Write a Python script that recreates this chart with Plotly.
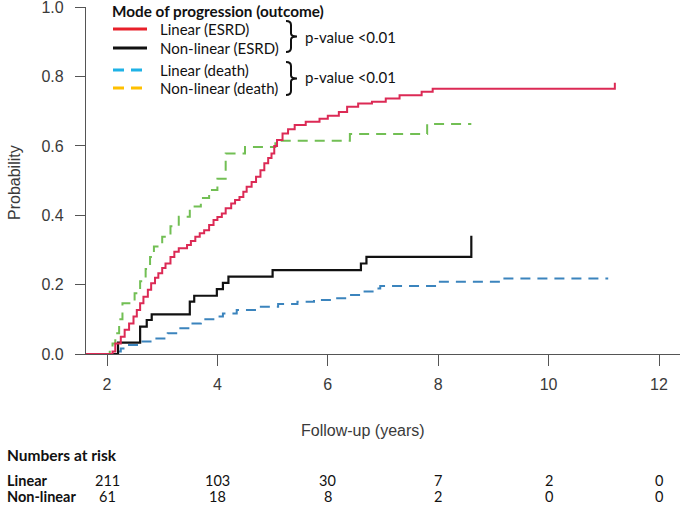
import plotly.graph_objects as go

# ---------------- data ----------------
red_t = [1.62, 2.10, 2.15, 2.25, 2.32, 2.40, 2.48, 2.54, 2.60, 2.66, 2.74, 2.80, 2.87, 2.93, 3.00, 3.06,
         3.15, 3.22, 3.30, 3.45, 3.52, 3.60, 3.68, 3.76, 3.85, 3.93, 4.00, 4.08, 4.15, 4.25, 4.32, 4.40,
         4.47, 4.53, 4.62, 4.70, 4.78, 4.85, 4.92, 4.98, 5.03, 5.08, 5.18, 5.28, 5.40, 5.60, 5.85, 6.00,
         6.20, 6.35, 6.55, 6.80, 7.05, 7.30, 7.70, 7.90, 11.20, 11.20]
red_v = [0, 0.007, 0.03, 0.05, 0.07, 0.088, 0.108, 0.127, 0.146, 0.165, 0.185, 0.204, 0.22, 0.233, 0.248, 0.261,
         0.28, 0.295, 0.305, 0.314, 0.326, 0.338, 0.348, 0.357, 0.372, 0.386, 0.395, 0.405, 0.42, 0.434, 0.444, 0.453,
         0.468, 0.482, 0.496, 0.511, 0.53, 0.55, 0.565, 0.578, 0.60, 0.617, 0.636, 0.648, 0.66, 0.67, 0.678, 0.687,
         0.698, 0.713, 0.722, 0.727, 0.737, 0.746, 0.756, 0.765, 0.765, 0.782]

green_t = [1.62, 2.05, 2.10, 2.15, 2.22, 2.28, 2.50, 2.60, 2.70, 2.78, 2.85, 3.00, 3.15, 3.30, 3.50, 3.70,
           3.85, 4.00, 4.15, 4.50, 5.05, 6.40, 7.80, 8.60]
green_v = [0, 0.01, 0.03, 0.06, 0.10, 0.146, 0.175, 0.21, 0.245, 0.28, 0.31, 0.338, 0.368, 0.396, 0.425, 0.45,
           0.473, 0.505, 0.578, 0.597, 0.615, 0.634, 0.663, 0.663]

black_t = [1.62, 2.20, 2.60, 2.72, 2.81, 3.50, 3.58, 3.99, 4.10, 4.20, 5.00, 6.60, 6.70, 8.60, 8.60]
black_v = [0, 0.033, 0.079, 0.098, 0.114, 0.151, 0.168, 0.187, 0.205, 0.223, 0.242, 0.261, 0.28, 0.28, 0.341]

blue_t = [1.62, 2.10, 2.25, 2.35, 2.60, 2.85, 3.10, 3.30, 3.50, 3.70, 3.95, 4.10, 4.35, 4.70, 5.10, 5.45,
          5.75, 6.10, 6.35, 6.60, 6.88, 6.95, 7.97, 9.18, 11.08]
blue_v = [0, 0.007, 0.016, 0.026, 0.036, 0.045, 0.06, 0.074, 0.088, 0.10, 0.108, 0.117, 0.127, 0.136, 0.144, 0.151,
          0.156, 0.161, 0.17, 0.18, 0.189, 0.196, 0.208, 0.218, 0.218]

x_ticks = [2, 4, 6, 8, 10, 12]
y_ticks = [0.0, 0.2, 0.4, 0.6, 0.8, 1.0]
y_ticktext = ["0.0", "0.2", "0.4", "0.6", "0.8", "1.0"]

risk_groups = ["Linear", "Non-linear"]
risk_linear = [211, 103, 30, 7, 2, 0]
risk_nonlinear = [61, 18, 8, 2, 0, 0]

legend_labels = ["Linear (ESRD)", "Non-linear (ESRD)", "Linear (death)", "Non-linear (death)"]
legend_title = "Mode of progression (outcome)"
pvalue_text = "p-value <0.01"

# ---------------- layout geometry ----------------
W, H = 685, 507
L, R, T, B = 86, 5, 7, 153
PW, PH = W - L - R, H - T - B


def px(x):
    return (x - L) / PW


def py(y):
    return (H - B - y) / PH


TXT = "Lato"
AX = "Liberation Sans"
AXC = "#3a3a3a"

fig = go.Figure()


def step(t, v, color, width, dash="solid"):
    fig.add_trace(go.Scatter(x=t, y=v, mode="lines", line=dict(color=color, width=width, dash=dash, shape="hv"),
                             showlegend=False, hoverinfo="skip"))


step(green_t, green_v, "#72bf54", 2, "10px,7px")
step(blue_t, blue_v, "#3b84bd", 2, "10px,7px")
step(black_t, black_v, "#111111", 2.2)
step(red_t, red_v, "#dc2a55", 2)

shapes = []
annotations = []

# legend title
annotations.append(dict(x=px(110), y=py(11), xref="paper", yref="paper", xanchor="left", yanchor="middle",
                        text="<b>" + legend_title + "</b>", showarrow=False,
                        font=dict(family=TXT, size=15.3, color="#111")))

leg_colors = ["#e8202a", "#111111", "#1fb2e6", "#ffc000"]
leg_dash = ["solid", "solid", "11px,7px", "11px,7px"]
leg_y = [29, 48, 70, 88]
for lab, c, d, yy in zip(legend_labels, leg_colors, leg_dash, leg_y):
    shapes.append(dict(type="line", xref="paper", yref="paper", x0=px(113), x1=px(147), y0=py(yy), y1=py(yy),
                       line=dict(color=c, width=3, dash=d)))
    annotations.append(dict(x=px(158), y=py(yy), xref="paper", yref="paper", xanchor="left", yanchor="middle",
                            text=lab, showarrow=False, font=dict(family=TXT, size=15, color="#111")))


def brace(y0, y1, xl=286, xm=291, xt=297):
    yc = (y0 + y1) / 2
    pts = [("M", xl, y0), ("Q", xm, y0, xm, y0 + 4), ("L", xm, yc - 3), ("Q", xm, yc, xt, yc),
           ("Q", xm, yc, xm, yc + 3), ("L", xm, y1 - 4), ("Q", xm, y1, xl, y1)]
    s = ""
    for p in pts:
        cmd = p[0]
        coords = p[1:]
        parts = []
        for i in range(0, len(coords), 2):
            parts.append("%.5f,%.5f" % (px(coords[i]), py(coords[i + 1])))
        s += cmd + " " + " ".join(parts) + " "
    return dict(type="path", xref="paper", yref="paper", path=s.strip(), line=dict(color="#111", width=2))


shapes.append(brace(21, 52))
shapes.append(brace(62, 95))
for yy in [37, 77]:
    annotations.append(dict(x=px(303), y=py(yy), xref="paper", yref="paper", xanchor="left", yanchor="middle",
                            text=pvalue_text, showarrow=False, font=dict(family=TXT, size=15, color="#111")))

# axis titles
annotations.append(dict(x=px(363), y=py(430), xref="paper", yref="paper", xanchor="center", yanchor="middle",
                        text="Follow-up (years)", showarrow=False, font=dict(family=AX, size=16, color=AXC)))
annotations.append(dict(x=px(14), y=py(183), xref="paper", yref="paper", xanchor="center", yanchor="middle",
                        text="Probability", textangle=-90, showarrow=False, font=dict(family=AX, size=16, color=AXC)))

# numbers at risk
annotations.append(dict(x=px(6), y=py(455), xref="paper", yref="paper", xanchor="left", yanchor="middle",
                        text="<b>Numbers at risk</b>", showarrow=False, borderpad=0,
                        font=dict(family=TXT, size=15.5, color="#111")))
for g, vals, yy in zip(risk_groups, [risk_linear, risk_nonlinear], [480, 497]):
    annotations.append(dict(x=px(6), y=py(yy), xref="paper", yref="paper", xanchor="left", yanchor="middle",
                            text="<b>" + g + "</b>", showarrow=False, borderpad=0,
                            font=dict(family=TXT, size=14.5, color="#111")))
    for xt, v in zip(x_ticks, vals):
        annotations.append(dict(x=xt, y=py(yy), xref="x", yref="paper", xanchor="center", yanchor="middle",
                                text=str(v), showarrow=False, borderpad=0,
                                font=dict(family=TXT, size=14.5, color="#111")))

x0 = 2 - 21 / 55.2
x1 = 12 + 21 / 55.2

fig.update_layout(
    width=W, height=H, margin=dict(l=L, r=R, t=T, b=B, autoexpand=False),
    plot_bgcolor="white", paper_bgcolor="white",
    shapes=shapes, annotations=annotations, showlegend=False,
    xaxis=dict(range=[x0, x1], tickvals=x_ticks, ticks="outside", ticklen=11, tickwidth=1.3, tickcolor="#555",
               showline=True, linecolor="#555", linewidth=1.3, showgrid=False, zeroline=False, automargin=False,
               tickfont=dict(family=AX, size=16, color=AXC), ticklabelstandoff=5, ticklabeloverflow="allow"),
    yaxis=dict(range=[0, 1.0005], tickvals=y_ticks, ticktext=y_ticktext, ticks="outside", ticklen=10, tickwidth=1.3,
               tickcolor="#555", showline=True, linecolor="#555", linewidth=1.3, showgrid=False, zeroline=False,
               automargin=False, tickfont=dict(family=AX, size=16, color=AXC), ticklabelstandoff=8,
               ticklabeloverflow="allow"),
)

fig.write_html("out.html", config={"displayModeBar": False},
               post_script="document.body.style.margin='0';document.body.style.padding='0';"
                           "document.body.style.overflow='hidden';")
